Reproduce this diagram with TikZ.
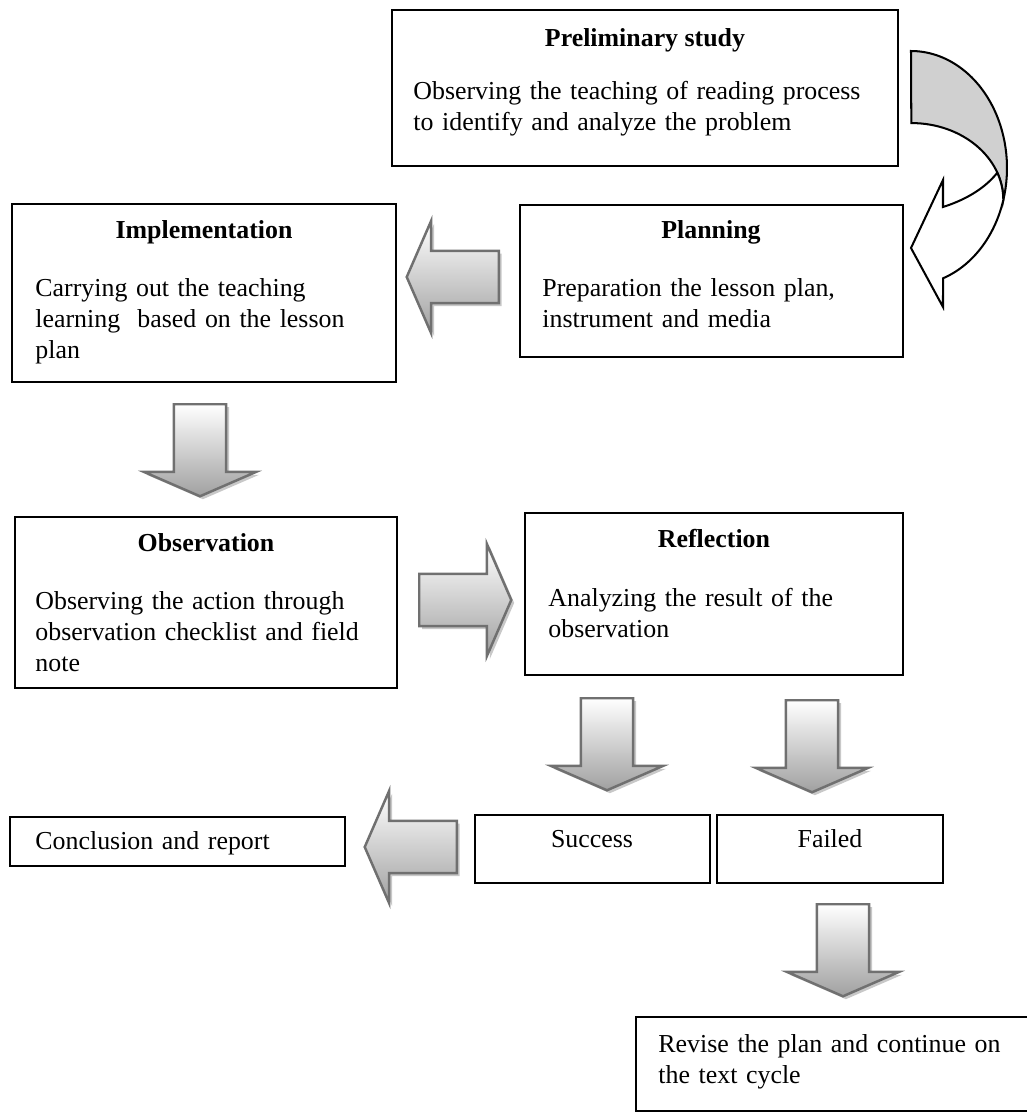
\documentclass[tikz,border=0pt]{standalone}
\usepackage{fontspec}
\setmainfont{Liberation Serif}
\usetikzlibrary{shapes.arrows, fit, shadows}
\definecolor{cArrowEdge}{RGB}{112,112,112}
\definecolor{cArrowLow}{RGB}{160,160,160}
\definecolor{cShadow}{RGB}{200,200,200}
\definecolor{cBack}{RGB}{208,208,208}
\tikzset{
	box/.style      ={rectangle, draw=black, line width=0.75pt, inner sep=0pt},
	ttl/.style      ={anchor=base, inner sep=0pt, font=\fontsize{11.5pt}{13.8pt}\selectfont\bfseries},
	lbl/.style      ={anchor=base, inner sep=0pt, font=\fontsize{11.5pt}{13.8pt}\selectfont},
	body/.style     ={anchor=base west, align=left, text width=240pt, inner sep=0pt, font=\fontsize{11.5pt}{13.8pt}\selectfont},
	% shaded block arrows between the stages
	blkarrow/.style ={single arrow, draw=cArrowEdge, line width=1.1pt, top color=white, bottom color=cArrowLow,
		minimum width=48.9pt, minimum height=40.9pt, single arrow head extend=13.3pt, single arrow tip angle=133,
		inner sep=11.1pt, anchor=tail, drop shadow={shadow xshift=1.3pt, shadow yshift=-1.3pt, fill=cShadow, opacity=1}},
	% curved return arrow
	curveback/.style ={draw=black, line width=0.9pt, fill=cBack},
	curvefront/.style={draw=black, line width=0.9pt, fill=white, line join=miter},
}

\begin{document}
\begin{tikzpicture}[x=0.4444pt, y=-0.4444pt]
	\clip (0,0) rectangle (1027,1113);
	% stage boxes
	\node[box, fit={(392,10) (898,166)}] (prelim) {};
	\node[box, fit={(520,205) (903,357)}] (plan) {};
	\node[box, fit={(12,204) (396,382)}] (impl) {};
	\node[box, fit={(15,517) (397,688)}] (obs) {};
	\node[box, fit={(525,513) (903,675)}] (refl) {};
	\node[box, fit={(10,817) (345,866)}] (conc) {};
	\node[box, fit={(475,815) (710,883)}] (succ) {};
	\node[box, fit={(717,815) (943,883)}] (fail) {};
	\node[box, fit={(636,1017) (1040,1111)}] (rev) {};
	% texts
	\node[ttl] (prelimT) at (645,46) {Preliminary study};
	\node[body] (prelimB) at (413,99) {Observing the teaching of reading process\\to identify and analyze the problem};
	\node[ttl] (planT) at (711,238) {Planning};
	\node[body] (planB) at (542,296) {Preparation the lesson plan,\\instrument and media};
	\node[ttl] (implT) at (204,238) {Implementation};
	\node[body] (implB) at (35,296) {Carrying out the teaching\\learning~ based on the lesson\\plan};
	\node[ttl] (obsT) at (206,551) {Observation};
	\node[body] (obsB) at (35,609) {Observing the action through\\observation checklist and field\\note};
	\node[ttl] (reflT) at (714,547) {Reflection};
	\node[body] (reflB) at (548,606) {Analyzing the result of the\\observation};
	\node[body] (concB) at (35,849) {Conclusion and report};
	\node[lbl] (succT) at (592,847) {Success};
	\node[lbl] (failT) at (830,847) {Failed};
	\node[body] (revB) at (658,1052) {Revise the plan and continue on\\the text cycle};
	% block arrows
	\node[blkarrow, shape border rotate=180] (aPlanImpl) at (500,277) {};
	\node[blkarrow, shape border rotate=270] (aImplObs) at (200,403) {};
	\node[blkarrow] (aObsRefl) at (418,600) {};
	\node[blkarrow, shape border rotate=270] (aReflSucc) at (607,697) {};
	\node[blkarrow, shape border rotate=270] (aReflFail) at (812,699) {};
	\node[blkarrow, shape border rotate=180] (aSuccConc) at (458,847) {};
	\node[blkarrow, shape border rotate=270] (aFailRev) at (843,903) {};
	% curved arrow from preliminary study to planning
	\draw[curveback] (911,51) arc[start angle=-90, end angle=15.9, x radius=96, y radius=117]
		arc[start angle=0, end angle=-90, x radius=92, y radius=77] -- cycle;
	\draw[curvefront] (997.3,172.7) arc[start angle=-20.8, end angle=0, x radius=92, y radius=77]
		arc[start angle=15.9, end angle=70.5, x radius=96, y radius=117]
		-- (943,307) -- (911,248) -- (943,180) -- (943,207)
		.. controls (968,199) and (986,187) .. cycle;
\end{tikzpicture}
\end{document}
